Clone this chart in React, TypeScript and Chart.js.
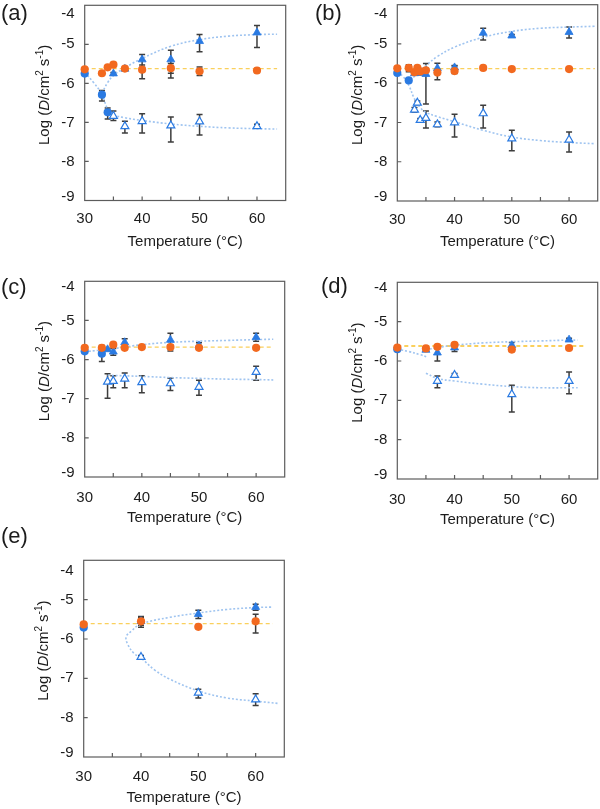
import React, { useEffect, useRef } from 'react';
import { Chart, registerables } from 'chart.js';

Chart.register(...registerables);

const FONT = "'Liberation Sans', Arial, Helvetica, sans-serif";
const TEXT = '#1c1c1c';
const FRAME = '#5c5c5c';
const BLUE = '#2a7ae2';
const ORANGE = '#f2691f';
const ERRBAR = '#3d3d3d';
const FIT_BLUE = '#9fc4f0';
const FIT_ORANGE = '#fad05c';

type Err = number | [number, number];

// ---- axes ----
const X_RANGE = [30, 65];
const Y_RANGE = [-9, -4];
const X_TICK_LABELS = [30, 40, 50, 60];
const X_TICK_MARKS = [35, 40, 45, 50, 55, 60];
const Y_TICKS = [-4, -5, -6, -7, -8, -9];
const X_TITLE = 'Temperature (°C)';

// ---- panel (a) ----
const A_OR_T = [30, 33, 34, 35, 37, 40, 45, 50, 60];
const A_OR_Y = [-5.64, -5.74, -5.59, -5.52, -5.62, -5.65, -5.61, -5.69, -5.67];
const A_OR_E: Err[] = [0, 0, 0, 0, 0.03, [0.23, 0.12], [0.25, 0.12], 0.11, 0.05];
const A_BC_T = [30, 33, 34];
const A_BC_Y = [-5.75, -6.29, -6.74];
const A_BC_E: Err[] = [0, [0.16, 0.11], [0.17, 0.11]];
const A_BT_T = [35, 37, 40, 45, 50, 60];
const A_BT_Y = [-5.75, -5.63, -5.39, -5.39, -4.92, -4.7];
const A_BT_E: Err[] = [0.03, 0.03, [0.2, 0.13], [0.35, 0.24], [0.27, 0.17], [0.38, 0.18]];
const A_OT_T = [35, 37, 40, 45, 50, 60];
const A_OT_Y = [-6.84, -7.1, -6.97, -7.08, -6.98, -7.1];
const A_OT_E: Err[] = [[0.11, 0.13], [0.17, 0.13], [0.3, 0.19], [0.42, 0.22], [0.34, 0.18], 0.05];
const A_FIT_OR_T = [30, 63.5];
const A_FIT_OR_Y = [-5.62, -5.62];
const A_FIT1_T = [30, 31.5, 33, 34, 35, 37, 40, 45, 50, 55, 60, 63.5];
const A_FIT1_Y = [-5.72, -5.97, -6.28, -6.66, -6.8, -6.88, -6.95, -7.04, -7.1, -7.14, -7.16, -7.17];
const A_FIT2_T = [33, 34, 35, 37, 40, 45, 50, 55, 60, 63.5];
const A_FIT2_Y = [-6.25, -5.98, -5.8, -5.6, -5.36, -5.05, -4.88, -4.79, -4.75, -4.74];

// ---- panel (b) ----
const B_OR_T = [30, 32, 33, 33.5, 34, 35, 37, 40, 45, 50, 60];
const B_OR_Y = [-5.62, -5.61, -5.72, -5.61, -5.7, -5.67, -5.73, -5.69, -5.61, -5.64, -5.64];
const B_OR_E: Err[] = [0, [0.1, 0.08], 0, 0, 0, 0, [0.18, 0.1], [0.06, 0.13], 0, 0, 0];
const B_BC_T = [30, 32];
const B_BC_Y = [-5.74, -5.93];
const B_BC_E: Err[] = [0, 0];
const B_BT_T = [33, 33.5, 34, 35, 37, 40, 45, 50, 60];
const B_BT_Y = [-5.75, -5.74, -5.74, -5.77, -5.62, -5.6, -4.72, -4.79, -4.7];
const B_BT_E: Err[] = [0, 0, 0, [0.76, 0.27], [0.1, 0.13], 0.05, [0.18, 0.12], 0.03, [0.15, 0.13]];
const B_OT_T = [33, 33.5, 34, 35, 37, 40, 45, 50, 60];
const B_OT_Y = [-6.68, -6.5, -6.94, -6.89, -7.05, -7.0, -6.77, -7.41, -7.44];
const B_OT_E: Err[] = [0.06, 0.05, 0.04, [0.25, 0.18], 0.06, [0.37, 0.21], [0.37, 0.21], [0.31, 0.21], [0.31, 0.2]];
const B_FIT_OR_T = [30, 64.5];
const B_FIT_OR_Y = [-5.63, -5.63];
const B_FIT1_T = [30, 31, 32, 33, 34, 35, 37, 40, 45, 50, 55, 60, 64.5];
const B_FIT1_Y = [-5.72, -5.83, -6.05, -6.4, -6.62, -6.74, -6.85, -6.98, -7.2, -7.37, -7.46, -7.51, -7.54];
const B_FIT2_T = [32.8, 34, 35, 37, 40, 45, 50, 55, 60, 64.5];
const B_FIT2_Y = [-5.85, -5.68, -5.55, -5.32, -5.08, -4.83, -4.68, -4.6, -4.57, -4.55];

// ---- panel (c) ----
const C_OR_T = [30, 33, 35, 37, 40, 45, 50, 60];
const C_OR_Y = [-5.7, -5.7, -5.62, -5.7, -5.68, -5.68, -5.7, -5.7];
const C_OR_E: Err[] = [0, [0.1, 0.06], 0, 0, 0, [0.1, 0.05], 0, 0];
const C_BC_T = [30, 33];
const C_BC_Y = [-5.79, -5.85];
const C_BC_E: Err[] = [0, [0.2, 0.12]];
const C_BT_T = [34, 35, 37, 45, 50, 60];
const C_BT_Y = [-5.74, -5.8, -5.56, -5.5, -5.64, -5.43];
const C_BT_E: Err[] = [0.03, [0.09, 0.08], [0.1, 0.09], [0.2, 0.17], [0.08, 0.07], [0.1, 0.1]];
const C_OT_T = [34, 35, 37, 40, 45, 50, 60];
const C_OT_Y = [-6.57, -6.55, -6.49, -6.58, -6.61, -6.7, -6.32];
const C_OT_E: Err[] = [[0.42, 0.21], [0.17, 0.14], [0.23, 0.15], [0.27, 0.17], [0.18, 0.13], [0.21, 0.17], [0.21, 0.15]];
const C_FIT_OR_T = [30, 63];
const C_FIT_OR_Y = [-5.68, -5.68];
const C_FIT1_T = [30, 35, 40, 45, 50, 55, 60, 63];
const C_FIT1_Y = [-5.8, -5.72, -5.62, -5.56, -5.53, -5.51, -5.49, -5.48];
const C_FIT2_T = [34, 40, 45, 50, 55, 60, 63];
const C_FIT2_Y = [-6.4, -6.43, -6.46, -6.48, -6.5, -6.51, -6.52];

// ---- panel (d) ----
const D_OR_T = [30, 35, 37, 40, 50, 60];
const D_OR_Y = [-5.66, -5.68, -5.64, -5.59, -5.71, -5.67];
const D_OR_E: Err[] = [0, 0.04, 0, 0.03, 0.05, 0];
const D_BC_T = [30];
const D_BC_Y = [-5.7];
const D_BC_E: Err[] = [0];
const D_BT_T = [35, 37, 40, 50, 60];
const D_BT_Y = [-5.72, -5.79, -5.66, -5.6, -5.46];
const D_BT_E: Err[] = [0.03, [0.21, 0.1], [0.1, 0.08], [0.1, 0.07], 0.04];
const D_OT_T = [37, 40, 50, 60];
const D_OT_Y = [-6.51, -6.36, -6.85, -6.51];
const D_OT_E: Err[] = [[0.17, 0.13], 0.04, [0.45, 0.23], [0.32, 0.23]];
const D_FIT_OR_T = [30, 63];
const D_FIT_OR_Y = [-5.62, -5.62];
const D_FIT1_T = [30, 32, 34, 35.2];
const D_FIT1_Y = [-5.7, -5.76, -5.84, -5.9];
const D_FIT2_T = [35, 37, 40, 45, 50, 55, 60, 61.5];
const D_FIT2_Y = [-5.72, -5.66, -5.6, -5.54, -5.51, -5.49, -5.47, -5.47];
const D_FIT3_T = [35, 37, 40, 45, 50, 55, 61.5];
const D_FIT3_Y = [-6.31, -6.44, -6.51, -6.59, -6.65, -6.68, -6.68];

// ---- panel (e) ----
const E_OR_T = [30, 40, 50, 60];
const E_OR_Y = [-5.63, -5.55, -5.69, -5.55];
const E_OR_E: Err[] = [0, [0.15, 0.12], 0, [0.3, 0.18]];
const E_BC_T = [30];
const E_BC_Y = [-5.71];
const E_BC_E: Err[] = [0];
const E_BT_T = [40, 50, 60];
const E_BT_Y = [-5.55, -5.37, -5.19];
const E_BT_E: Err[] = [0.1, [0.11, 0.1], [0.08, 0.07]];
const E_OT_T = [40, 50, 60];
const E_OT_Y = [-6.46, -7.37, -7.54];
const E_OT_E: Err[] = [0.04, [0.13, 0.09], 0.15];
const E_FIT_OR_T = [30, 63];
const E_FIT_OR_Y = [-5.61, -5.61];
const E_FIT1_T = [62.7, 60, 55, 50, 45, 40, 38.3, 37.4, 37.7, 38.8, 40, 42.3, 45, 50, 55, 60, 64.1];
const E_FIT1_Y = [-5.19, -5.2, -5.25, -5.34, -5.45, -5.62, -5.8, -5.95, -6.14, -6.37, -6.48, -6.78, -7.02, -7.32, -7.5, -7.58, -7.64];

interface Series { t: number[]; y: number[]; e: Err[] }
interface Line { t: number[]; y: number[] }
interface PanelDef {
  letter: string;
  orange: Series; blueCircle: Series; blueTri: Series; openTri: Series;
  fitOrange: Line; fitBlue: Line[]; orangeFitWidth: number;
  box: { x: number; y: number; w: number; h: number };
  area: { l: number; t: number; r: number; b: number };
  letterPos: { x: number; y: number };
  topLabelShift: number;
  xLabelGap: number;
}

const PANELS: PanelDef[] = [
  {
    letter: '(a)',
    orange: { t: A_OR_T, y: A_OR_Y, e: A_OR_E },
    blueCircle: { t: A_BC_T, y: A_BC_Y, e: A_BC_E },
    blueTri: { t: A_BT_T, y: A_BT_Y, e: A_BT_E },
    openTri: { t: A_OT_T, y: A_OT_Y, e: A_OT_E },
    fitOrange: { t: A_FIT_OR_T, y: A_FIT_OR_Y },
    fitBlue: [{ t: A_FIT1_T, y: A_FIT1_Y }, { t: A_FIT2_T, y: A_FIT2_Y }],
    orangeFitWidth: 1.3,
    box: { x: 0, y: 0, w: 300, h: 270 },
    area: { l: 84.7, t: 5.3, r: 285.7, b: 200.5 },
    letterPos: { x: 1, y: 14 },
    topLabelShift: 9,
    xLabelGap: 18.5,
  },
  {
    letter: '(b)',
    orange: { t: B_OR_T, y: B_OR_Y, e: B_OR_E },
    blueCircle: { t: B_BC_T, y: B_BC_Y, e: B_BC_E },
    blueTri: { t: B_BT_T, y: B_BT_Y, e: B_BT_E },
    openTri: { t: B_OT_T, y: B_OT_Y, e: B_OT_E },
    fitOrange: { t: B_FIT_OR_T, y: B_FIT_OR_Y },
    fitBlue: [{ t: B_FIT1_T, y: B_FIT1_Y }, { t: B_FIT2_T, y: B_FIT2_Y }],
    orangeFitWidth: 1.3,
    box: { x: 300, y: 0, w: 300, h: 270 },
    area: { l: 397.3, t: 4.7, r: 597.7, b: 201 },
    letterPos: { x: 315, y: 13.5 },
    topLabelShift: 9,
    xLabelGap: 18.5,
  },
  {
    letter: '(c)',
    orange: { t: C_OR_T, y: C_OR_Y, e: C_OR_E },
    blueCircle: { t: C_BC_T, y: C_BC_Y, e: C_BC_E },
    blueTri: { t: C_BT_T, y: C_BT_Y, e: C_BT_E },
    openTri: { t: C_OT_T, y: C_OT_Y, e: C_OT_E },
    fitOrange: { t: C_FIT_OR_T, y: C_FIT_OR_Y },
    fitBlue: [{ t: C_FIT1_T, y: C_FIT1_Y }, { t: C_FIT2_T, y: C_FIT2_Y }],
    orangeFitWidth: 1.3,
    box: { x: 0, y: 270, w: 300, h: 270 },
    area: { l: 84.7, t: 281.3, r: 284.7, b: 477 },
    letterPos: { x: 1, y: 288 },
    topLabelShift: 6,
    xLabelGap: 20.5,
  },
  {
    letter: '(d)',
    orange: { t: D_OR_T, y: D_OR_Y, e: D_OR_E },
    blueCircle: { t: D_BC_T, y: D_BC_Y, e: D_BC_E },
    blueTri: { t: D_BT_T, y: D_BT_Y, e: D_BT_E },
    openTri: { t: D_OT_T, y: D_OT_Y, e: D_OT_E },
    fitOrange: { t: D_FIT_OR_T, y: D_FIT_OR_Y },
    fitBlue: [{ t: D_FIT1_T, y: D_FIT1_Y }, { t: D_FIT2_T, y: D_FIT2_Y }, { t: D_FIT3_T, y: D_FIT3_Y }],
    orangeFitWidth: 2,
    box: { x: 300, y: 270, w: 300, h: 270 },
    area: { l: 397.3, t: 282.3, r: 597.7, b: 479 },
    letterPos: { x: 321, y: 286.5 },
    topLabelShift: 6,
    xLabelGap: 21,
  },
  {
    letter: '(e)',
    orange: { t: E_OR_T, y: E_OR_Y, e: E_OR_E },
    blueCircle: { t: E_BC_T, y: E_BC_Y, e: E_BC_E },
    blueTri: { t: E_BT_T, y: E_BT_Y, e: E_BT_E },
    openTri: { t: E_OT_T, y: E_OT_Y, e: E_OT_E },
    fitOrange: { t: E_FIT_OR_T, y: E_FIT_OR_Y },
    fitBlue: [{ t: E_FIT1_T, y: E_FIT1_Y }],
    orangeFitWidth: 1.3,
    box: { x: 0, y: 520, w: 300, h: 289 },
    area: { l: 83.7, t: 560.3, r: 284.3, b: 757 },
    letterPos: { x: 1, y: 537 },
    topLabelShift: 11,
    xLabelGap: 20,
  },
];

const pts = (t: number[], y: number[]) => t.map((v, i) => ({ x: v, y: y[i] }));

function drawErrors(ctx: CanvasRenderingContext2D, chart: any, s: Series) {
  const xs = chart.scales.x;
  const ys = chart.scales.y;
  s.t.forEach((t, i) => {
    const e = s.e[i];
    if (!e) return;
    const lo = typeof e === 'number' ? e : e[0];
    const hi = typeof e === 'number' ? e : e[1];
    const px = xs.getPixelForValue(t);
    const p1 = ys.getPixelForValue(s.y[i] + hi);
    const p2 = ys.getPixelForValue(s.y[i] - lo);
    ctx.beginPath();
    ctx.moveTo(px, p1);
    ctx.lineTo(px, p2);
    ctx.moveTo(px - 3, p1);
    ctx.lineTo(px + 3, p1);
    ctx.moveTo(px - 3, p2);
    ctx.lineTo(px + 3, p2);
    ctx.stroke();
  });
}

function drawYTitle(ctx: CanvasRenderingContext2D, cx: number, cy: number) {
  const parts = [
    { t: 'Log (', f: `15px ${FONT}`, dy: 0 },
    { t: 'D', f: `italic 15px ${FONT}`, dy: 0 },
    { t: '/cm', f: `15px ${FONT}`, dy: 0 },
    { t: '2', f: `10px ${FONT}`, dy: -6 },
    { t: ' s', f: `15px ${FONT}`, dy: 0 },
    { t: '-1', f: `10px ${FONT}`, dy: -6 },
    { t: ')', f: `15px ${FONT}`, dy: 0 },
  ];
  ctx.save();
  ctx.translate(cx, cy);
  ctx.rotate(-Math.PI / 2);
  ctx.textBaseline = 'alphabetic';
  ctx.textAlign = 'left';
  let total = 0;
  const widths = parts.map((p) => {
    ctx.font = p.f;
    const w = ctx.measureText(p.t).width;
    total += w;
    return w;
  });
  let x = -total / 2;
  parts.forEach((p, i) => {
    ctx.font = p.f;
    ctx.fillText(p.t, x, 5.4 + p.dy);
    x += widths[i];
  });
  ctx.restore();
}

function makePlugin(def: PanelDef) {
  return {
    id: 'frame' + def.letter.replace(/[()]/g, ''),
    beforeDatasetsDraw(chart: any) {
      const { ctx, chartArea: a } = chart;
      const xs = chart.scales.x;
      const ys = chart.scales.y;
      ctx.save();
      ctx.strokeStyle = FRAME;
      ctx.lineWidth = 1.2;
      ctx.strokeRect(a.left, a.top, a.right - a.left, a.bottom - a.top);
      ctx.beginPath();
      X_TICK_MARKS.forEach((v) => {
        const px = xs.getPixelForValue(v);
        ctx.moveTo(px, a.bottom);
        ctx.lineTo(px, a.bottom - 4);
      });
      Y_TICKS.slice(1, -1).forEach((v) => {
        const py = ys.getPixelForValue(v);
        ctx.moveTo(a.left, py);
        ctx.lineTo(a.left + 4, py);
      });
      ctx.stroke();
      ctx.strokeStyle = ERRBAR;
      ctx.lineWidth = 1.5;
      [def.openTri, def.blueTri, def.blueCircle, def.orange].forEach((s) => drawErrors(ctx, chart, s));
      ctx.restore();
    },
    afterDraw(chart: any) {
      const { ctx, chartArea: a } = chart;
      const xs = chart.scales.x;
      const ys = chart.scales.y;
      const ox = def.box.x;
      const oy = def.box.y;
      ctx.save();
      ctx.fillStyle = TEXT;
      ctx.font = `15px ${FONT}`;
      ctx.textAlign = 'center';
      ctx.textBaseline = 'middle';
      X_TICK_LABELS.forEach((v) => {
        ctx.fillText(String(v), xs.getPixelForValue(v), a.bottom + def.xLabelGap);
      });
      ctx.textAlign = 'right';
      Y_TICKS.forEach((v, i) => {
        let py = ys.getPixelForValue(v);
        if (i === 0) py += def.topLabelShift;
        if (i === Y_TICKS.length - 1) py -= 3.7;
        ctx.fillText(String(v), a.left - 10, py);
      });
      ctx.textAlign = 'center';
      ctx.fillText(X_TITLE, (a.left + a.right) / 2, a.bottom + 41);
      drawYTitle(ctx, a.left - 41, (a.top + a.bottom) / 2 - 8);
      ctx.font = `22px ${FONT}`;
      ctx.textAlign = 'left';
      ctx.fillText(def.letter, def.letterPos.x - ox, def.letterPos.y - oy);
      ctx.restore();
    },
  };
}

function buildConfig(def: PanelDef): any {
  const datasets: any[] = [];
  datasets.push({
    data: pts(def.fitOrange.t, def.fitOrange.y),
    showLine: true,
    borderColor: FIT_ORANGE,
    borderWidth: def.orangeFitWidth,
    borderDash: [4, 3],
    pointRadius: 0,
    tension: 0,
    clip: false,
    order: 6,
  });
  def.fitBlue.forEach((f) => {
    datasets.push({
      data: pts(f.t, f.y),
      showLine: true,
      borderColor: FIT_BLUE,
      borderWidth: 1.6,
      borderDash: [2, 2],
      pointRadius: 0,
      tension: 0.4,
      clip: false,
      order: 5,
    });
  });
  const marker = (s: Series, style: string, fill: string, stroke: string, bw: number, r: number, order: number) => ({
    data: pts(s.t, s.y),
    showLine: false,
    pointStyle: style,
    pointRadius: r,
    pointBackgroundColor: fill,
    pointBorderColor: stroke,
    pointBorderWidth: bw,
    clip: false,
    order,
  });
  datasets.push(marker(def.openTri, 'triangle', '#ffffff', BLUE, 1.2, 4.6, 4));
  datasets.push(marker(def.blueTri, 'triangle', BLUE, BLUE, 0.8, 4.6, 3));
  datasets.push(marker(def.blueCircle, 'circle', BLUE, BLUE, 0, 4.1, 2));
  datasets.push(marker(def.orange, 'circle', ORANGE, ORANGE, 0, 4.1, 1));

  const b = def.box;
  const a = def.area;
  return {
    type: 'scatter',
    data: { datasets },
    options: {
      animation: false,
      responsive: false,
      events: [],
      layout: {
        autoPadding: false,
        padding: { left: a.l - b.x, top: a.t - b.y, right: b.x + b.w - a.r, bottom: b.y + b.h - a.b },
      },
      plugins: { legend: { display: false }, tooltip: { enabled: false }, title: { display: false } },
      scales: {
        x: { type: 'linear', min: X_RANGE[0], max: X_RANGE[1], display: false },
        y: { type: 'linear', min: Y_RANGE[0], max: Y_RANGE[1], display: false },
      },
    },
    plugins: [makePlugin(def)],
  };
}

function Panel({ def }: { def: PanelDef }) {
  const ref = useRef<HTMLCanvasElement>(null);
  useEffect(() => {
    if (!ref.current) return;
    const chart = new Chart(ref.current, buildConfig(def));
    return () => chart.destroy();
  }, [def]);
  const b = def.box;
  return (
    <canvas
      ref={ref}
      width={b.w}
      height={b.h}
      style={{ position: 'absolute', left: b.x, top: b.y, width: b.w, height: b.h }}
    />
  );
}

export default function App() {
  return (
    <div style={{ position: 'absolute', left: 0, top: 0, width: 600, height: 809, background: '#ffffff', overflow: 'hidden' }}>
      {PANELS.map((p) => (
        <Panel key={p.letter} def={p} />
      ))}
    </div>
  );
}
